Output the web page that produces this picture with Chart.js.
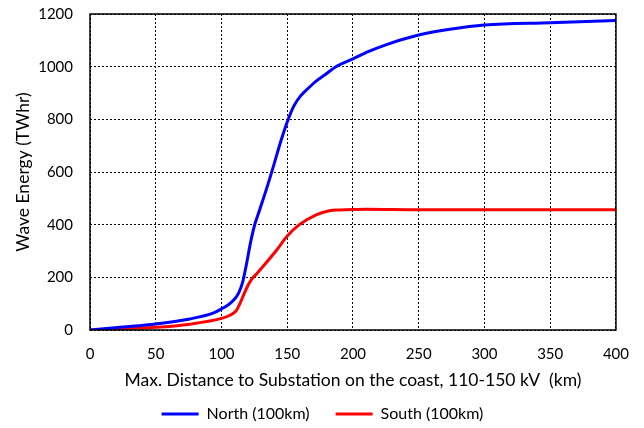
<!DOCTYPE html>
<html>
<head>
<meta charset="utf-8">
<script src="https://cdn.jsdelivr.net/npm/chart.js@4.4.1/dist/chart.umd.min.js"></script>
<style>
  html, body { margin: 0; padding: 0; background: #fff; }
  #wrap { width: 644px; height: 428px; }
</style>
</head>
<body>
<div id="wrap"><canvas id="waveChart" width="644" height="428"></canvas></div>
<script>
// distance to substation (km) and wave energy (TWhr)
const northX = [0, 25, 50, 76, 94, 100, 105, 110, 113, 116, 119, 122, 125, 129, 134, 140, 145, 150, 155, 160, 166, 172, 179, 187, 200, 212, 225, 250, 275, 300, 350, 400];
const northY = [0, 11, 23, 42, 65, 80, 95, 118, 140, 180, 250, 330, 395, 456, 532, 630, 715, 790, 850, 888, 918, 945, 970, 1000, 1030, 1058, 1083, 1120, 1143, 1158, 1167, 1175];
const southX = [0, 25, 50, 76, 100, 106, 111, 114, 117, 120, 123, 127, 131, 142, 150, 159, 172, 182, 190, 200, 210, 250, 300, 400];
const southY = [0, 5, 10, 22, 44, 55, 72, 100, 135, 168, 193, 215, 238, 304, 357, 399, 437, 453, 456, 458, 459, 457, 457, 457];
const seriesNames = ['North (100km)', 'South (100km)'];

const FONT = 'Lato, "Liberation Sans", sans-serif';

function toPoints(xs, ys) {
    return xs.map((x, i) => ({ x: x, y: ys[i] }));
}

// solid frame round the plot area, legend nudged to where Excel put it
const frame = {
    id: 'frame',
    afterLayout(chart) {
        const lg = chart.legend;
        lg.left += 10; lg.right += 10;
        lg.top += 3; lg.bottom += 3;
    },
    afterDraw(chart) {
        const a = chart.chartArea;
        const ctx = chart.ctx;
        ctx.save();
        ctx.strokeStyle = '#000';
        ctx.lineWidth = 1.5;
        ctx.strokeRect(a.left, a.top, a.right - a.left, a.bottom - a.top);
        ctx.restore();
    }
};

const ctx = document.getElementById('waveChart').getContext('2d');
new Chart(ctx, {
    type: 'line',
    data: {
        datasets: [{
            label: seriesNames[0],
            data: toPoints(northX, northY),
            borderColor: '#0000ff',
            backgroundColor: '#0000ff',
            borderWidth: 3,
            pointRadius: 0,
            cubicInterpolationMode: 'monotone'
        }, {
            label: seriesNames[1],
            data: toPoints(southX, southY),
            borderColor: '#ff0000',
            backgroundColor: '#ff0000',
            borderWidth: 3,
            pointRadius: 0,
            cubicInterpolationMode: 'monotone'
        }]
    },
    options: {
        responsive: false,
        animation: false,
        layout: { padding: { top: 14, right: 27, left: 8, bottom: 0 } },
        plugins: {
            legend: {
                position: 'bottom',
                maxHeight: 51,
                labels: {
                    usePointStyle: true,
                    pointStyle: 'line',
                    pointStyleWidth: 37,
                    color: '#000',
                    font: { family: FONT, size: 16 },
                    padding: 26
                }
            },
            tooltip: { enabled: false }
        },
        scales: {
            x: {
                type: 'linear',
                min: 0,
                max: 400,
                ticks: {
                    stepSize: 50, color: '#000', font: { family: FONT, size: 15 }, padding: 15,
                    callback: v => String(v)
                },
                grid: { color: '#000', lineWidth: 1, drawTicks: false },
                border: { display: false, dash: [2, 2] },
                title: {
                    display: true,
                    text: 'Max. Distance to Substation on the coast, 110-150 kV  (km)',
                    color: '#000',
                    font: { family: FONT, size: 17.5 },
                    padding: { top: 0, bottom: -14 }
                },
                afterFit(scale) { scale.height = 47; }
            },
            y: {
                min: 0,
                max: 1200,
                ticks: {
                    stepSize: 200, color: '#000', font: { family: FONT, size: 15 }, padding: 17,
                    callback: v => String(v)
                },
                grid: { color: '#000', lineWidth: 1, drawTicks: false },
                border: { display: false, dash: [2, 2] },
                title: {
                    display: true,
                    text: 'Wave Energy (TWhr)',
                    color: '#000',
                    font: { family: FONT, size: 17.5 },
                    padding: { top: 4.5, bottom: 0 }
                },
                afterFit(scale) {
                    scale.width = 82;
                    scale.paddingTop = 0;
                    scale.paddingBottom = 0;
                }
            }
        }
    },
    plugins: [frame]
});
</script>
</body>
</html>
